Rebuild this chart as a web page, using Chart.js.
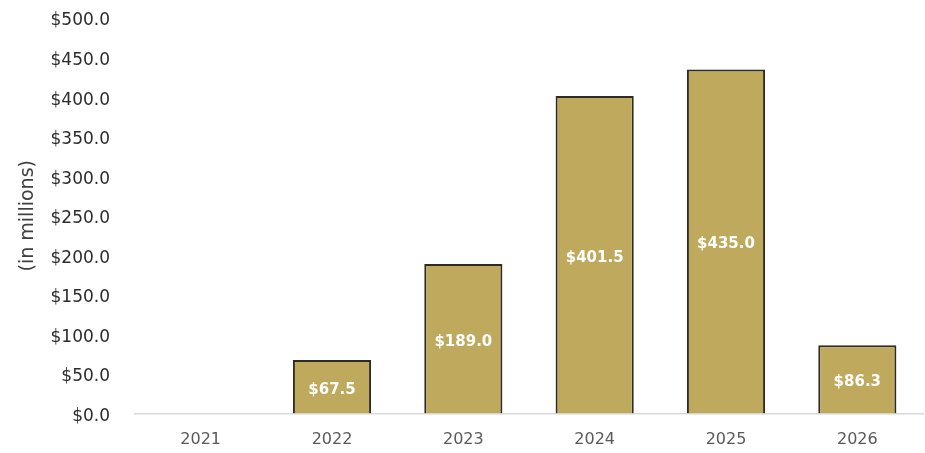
<!DOCTYPE html>
<html>
<head>
<meta charset="utf-8">
<script src="https://cdn.jsdelivr.net/npm/chart.js@4.4.1/dist/chart.umd.min.js"></script>
<style>
  html, body { margin: 0; padding: 0; background: #ffffff; }
  #wrap { width: 925px; height: 453px; }
</style>
</head>
<body>
<div id="wrap"><canvas id="c" width="925" height="453"></canvas></div>
<script>
// Annual amounts, in millions of dollars
const years = ['2021', '2022', '2023', '2024', '2025', '2026'];
const amounts = [null, 67.5, 189.0, 401.5, 435.0, 86.3];
const yTicks = [0, 50, 100, 150, 200, 250, 300, 350, 400, 450, 500];

const FONT = '"DejaVu Sans", sans-serif';

const money = v => '$' + Number(v).toFixed(1);

// Writes each bar's value in the middle of the bar
const barLabels = {
  id: 'barLabels',
  afterDatasetsDraw(chart) {
    const ctx = chart.ctx;
    const meta = chart.getDatasetMeta(0);
    ctx.save();
    ctx.fillStyle = '#ffffff';
    ctx.font = 'bold 15px ' + FONT;
    ctx.textAlign = 'center';
    ctx.textBaseline = 'middle';
    meta.data.forEach((bar, i) => {
      const v = amounts[i];
      if (v === null || v === undefined) return;
      const p = bar.getProps(['x', 'y', 'base'], true);
      ctx.fillText(money(v), p.x, (p.y + p.base) / 2 + 3);
    });
    ctx.restore();
  }
};

new Chart(document.getElementById('c'), {
  type: 'bar',
  data: {
    labels: years,
    datasets: [{
      data: amounts,
      backgroundColor: '#BFA95C',
      borderColor: '#2e2a22',
      borderWidth: 2,
      borderSkipped: 'bottom',
      barPercentage: 0.595,
      categoryPercentage: 1.0
    }]
  },
  options: {
    responsive: false,
    animation: false,
    devicePixelRatio: 1,
    layout: { padding: { top: 18, right: 2, bottom: 0, left: 0 } },
    plugins: {
      legend: { display: false },
      tooltip: { enabled: false }
    },
    scales: {
      x: {
        grid: { display: false, drawTicks: false },
        border: { display: true, color: '#d9d9d9', width: 1.5 },
        ticks: {
          color: '#595959',
          font: { family: FONT, size: 16 },
          padding: 17
        },
        afterFit(scale) {
          scale.height = 39.5;
          scale.paddingLeft = 0;
          scale.paddingRight = 0;
        }
      },
      y: {
        min: 0,
        max: 500,
        afterBuildTicks(scale) { scale.ticks = yTicks.map(v => ({ value: v })); },
        grid: { display: false, drawTicks: false },
        border: { display: false },
        ticks: {
          color: '#2b2b2b',
          font: { family: FONT, size: 17 },
          padding: 25,
          labelOffset: 3,
          callback: v => money(v)
        },
        title: {
          display: true,
          text: '(in millions)',
          color: '#404040',
          font: { family: FONT, size: 19 },
          padding: { top: 17, bottom: 0 }
        },
        afterFit(scale) {
          scale.width = 135;
          scale.paddingTop = 0;
          scale.paddingBottom = 0;
        }
      }
    }
  },
  plugins: [barLabels]
});
</script>
</body>
</html>
